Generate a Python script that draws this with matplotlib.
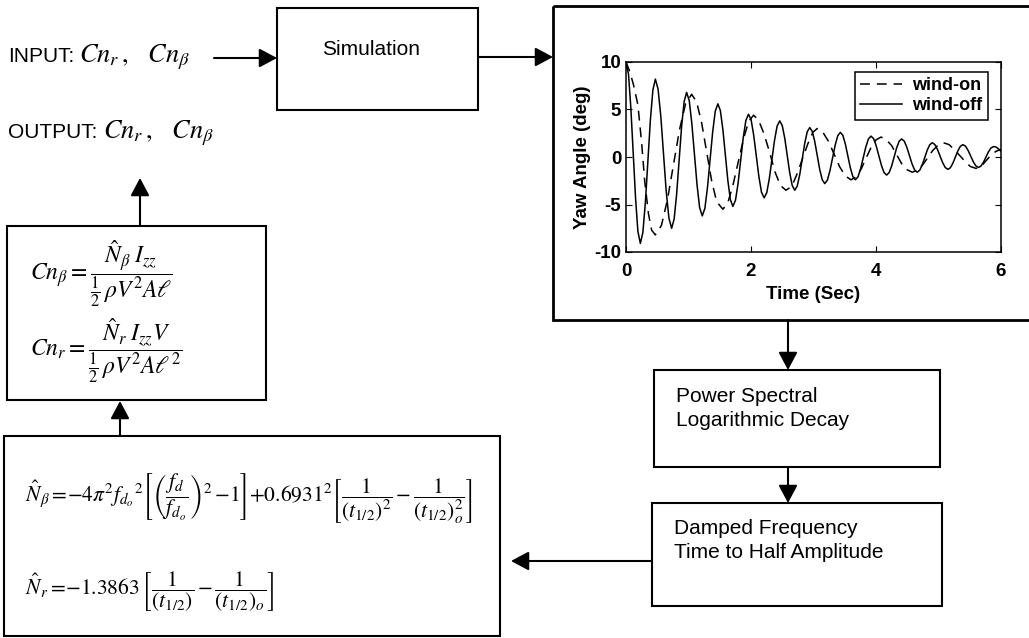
import numpy as np
import matplotlib.pyplot as plt
from matplotlib.patches import Rectangle

plt.rcParams['font.family'] = 'Liberation Sans'
plt.rcParams['mathtext.fontset'] = 'stix'
plt.rcParams['axes.unicode_minus'] = False

# yaw angle time histories
t_off = [0, 0.04, 0.077, 0.115, 0.153, 0.19,
         0.23, 0.27, 0.31, 0.35, 0.39, 0.43,
         0.47, 0.513, 0.557, 0.60, 0.643, 0.687,
         0.73, 0.77, 0.81, 0.85, 0.89, 0.93,
         0.97, 1.012, 1.053, 1.095, 1.137, 1.178,
         1.22, 1.262, 1.303, 1.345, 1.387, 1.428,
         1.47, 1.51, 1.55, 1.59, 1.63, 1.67,
         1.71, 1.752, 1.793, 1.835, 1.877, 1.918,
         1.96, 2.002, 2.043, 2.085, 2.127, 2.168,
         2.21, 2.252, 2.293, 2.335, 2.377, 2.418,
         2.46, 2.50, 2.54, 2.58, 2.62, 2.66,
         2.70, 2.74, 2.78, 2.82, 2.86, 2.90,
         2.94, 2.98, 3.02, 3.06, 3.10, 3.14,
         3.18, 3.222, 3.263, 3.305, 3.347, 3.388,
         3.43, 3.47, 3.51, 3.55, 3.59, 3.63,
         3.67, 3.712, 3.753, 3.795, 3.837, 3.878,
         3.92, 3.962, 4.003, 4.045, 4.087, 4.128,
         4.17, 4.21, 4.25, 4.29, 4.33, 4.37,
         4.41, 4.452, 4.493, 4.535, 4.577, 4.618,
         4.66, 4.70, 4.74, 4.78, 4.82, 4.86,
         4.90, 4.942, 4.983, 5.025, 5.067, 5.108,
         5.15, 5.19, 5.23, 5.27, 5.31, 5.35,
         5.39, 5.432, 5.473, 5.515, 5.557, 5.598,
         5.64, 5.68, 5.72, 5.76, 5.80, 5.84,
         5.88, 5.92, 5.96, 6.0]
yaw_off = [10, 8.72, 5.23, 0.45, -4.33, -7.82,
           -9.1, -7.94, -4.78, -0.45, 3.88, 7.04,
           8.2, 7.15, 4.28, 0.35, -3.58, -6.45,
           -7.5, -6.54, -3.93, -0.35, 3.23, 5.84,
           6.8, 5.93, 3.55, 0.3, -2.95, -5.33,
           -6.2, -5.41, -3.25, -0.3, 2.65, 4.81,
           5.6, 4.88, 2.9, 0.2, -2.5, -4.48,
           -5.2, -4.55, -2.78, -0.35, 2.08, 3.85,
           4.5, 3.91, 2.3, 0.1, -2.1, -3.71,
           -4.3, -3.76, -2.28, -0.25, 1.78, 3.26,
           3.8, 3.31, 1.98, 0.15, -1.68, -3.01,
           -3.5, -3.06, -1.85, -0.2, 1.45, 2.66,
           3.1, 2.7, 1.63, 0.15, -1.33, -2.4,
           -2.8, -2.44, -1.45, -0.1, 1.25, 2.24,
           2.6, 2.27, 1.35, 0.1, -1.15, -2.07,
           -2.4, -2.09, -1.25, -0.1, 1.05, 1.89,
           2.2, 1.93, 1.18, 0.15, -0.88, -1.63,
           -1.9, -1.65, -0.95, 0.0, 0.95, 1.65,
           1.9, 1.67, 1.03, 0.15, -0.73, -1.37,
           -1.6, -1.39, -0.83, -0.05, 0.73, 1.29,
           1.5, 1.31, 0.8, 0.1, -0.6, -1.11,
           -1.3, -1.13, -0.65, 0.0, 0.65, 1.13,
           1.3, 1.14, 0.7, 0.1, -0.5, -0.94,
           -1.1, -0.95, -0.55, 0.0, 0.55, 0.95,
           1.1, 1.05, 0.85, 0.6]

t_on = [0, 0.06, 0.12, 0.19, 0.25, 0.30, 0.36, 0.41, 0.47,
        0.567, 0.663, 0.76, 0.857, 0.953, 1.05,
        1.13, 1.21, 1.29, 1.37, 1.45, 1.55,
        1.63, 1.71, 1.795, 1.88, 1.96, 2.04,
        2.12, 2.21, 2.30, 2.38, 2.47, 2.56,
        2.65, 2.73, 2.82, 2.91, 2.99, 3.06,
        3.15, 3.24, 3.33, 3.42, 3.51, 3.60,
        3.68, 3.76, 3.84, 3.92, 4.00, 4.08,
        4.16, 4.25, 4.33, 4.41, 4.50, 4.58,
        4.66, 4.75, 4.83, 4.91, 5.00, 5.08,
        5.17, 5.25, 5.34, 5.43, 5.51, 5.60,
        5.68, 5.76, 5.84, 5.92, 6.0]
yaw_on = [10, 9.0, 7.6, 5.5, 1.5, -2.6, -6.0, -7.7, -8.2,
          -7.2, -4.5, -0.8, 2.9, 5.6, 6.6,
          5.8, 3.6, 0.55, -2.5, -4.7, -5.5,
          -4.8, -3.0, -0.55, 1.9, 3.7, 4.4,
          3.9, 2.4, 0.45, -1.5, -3.0, -3.5,
          -3.1, -1.9, -0.25, 1.4, 2.6, 3.0,
          2.6, 1.65, 0.3, -1.05, -2.0, -2.4,
          -2.1, -1.3, -0.15, 1.0, 1.8, 2.1,
          1.85, 1.2, 0.25, -0.7, -1.35, -1.6,
          -1.4, -0.8, -0.05, 0.7, 1.3, 1.5,
          1.3, 0.8, 0.15, -0.5, -1.0, -1.2,
          -1.0, -0.4, 0.2, 0.6, 0.8]

W, H = 1029, 638
fig = plt.figure(figsize=(W / 100, H / 100), dpi=100)
bg = fig.add_axes([0, 0, 1, 1])
bg.set_xlim(0, W)
bg.set_ylim(H, 0)
bg.axis('off')


def box(x0, y0, x1, y1, lw=1.5):
    bg.add_patch(Rectangle((x0, y0), x1 - x0, y1 - y0, fill=False,
                           lw=lw, ec='black'))


def arrow(x0, y0, x1, y1):
    bg.annotate('', xy=(x1, y1), xytext=(x0, y0),
                arrowprops=dict(arrowstyle='-|>,head_length=0.6,head_width=0.32',
                                color='black', lw=1.5, mutation_scale=18,
                                shrinkA=0, shrinkB=0))


# boxes
box(277, 8, 478, 110)
box(553, 6, 1040, 320, lw=2)
box(654, 370, 940, 467)
box(652, 503, 942, 606)
box(4, 436, 500, 636)
box(7, 226, 266, 400)

# arrows
arrow(214, 58, 277, 58)
arrow(478, 57, 553, 57)
arrow(788, 320, 788, 370)
arrow(788, 467, 788, 503)
arrow(652, 561, 511, 561)
arrow(120, 436, 120, 401)
arrow(140, 226, 140, 178)

# text
bg.text(8, 62, 'INPUT:', fontsize=15, va='baseline')
bg.text(79, 62, r'$Cn_{r}\,,\;\;\; Cn_{\beta}$', fontsize=19, va='baseline')
bg.text(8, 138, 'OUTPUT:', fontsize=15, va='baseline')
bg.text(103, 138, r'$Cn_{r}\,,\;\;\; Cn_{\beta}$', fontsize=19, va='baseline')
bg.text(371, 55, 'Simulation', fontsize=15, ha='center', va='baseline')
bg.text(676, 402, 'Power Spectral', fontsize=15, va='baseline')
bg.text(676, 426, 'Logarithmic Decay', fontsize=15, va='baseline')
bg.text(674, 534, 'Damped Frequency', fontsize=15, va='baseline')
bg.text(674, 558, 'Time to Half Amplitude', fontsize=15, va='baseline')

bg.text(30, 274, r'$Cn_{\beta} = \dfrac{\hat{N}_{\beta}\;I_{zz}}{\frac{1}{2}\,\rho V^{2} A\ell}$',
        fontsize=17, va='center')
bg.text(30, 351, r'$Cn_{r} = \dfrac{\hat{N}_{r}\;I_{zz}V}{\frac{1}{2}\,\rho V^{2} A\ell^{2}}$',
        fontsize=17, va='center')
bg.text(25, 499, r'$\hat{N}_{\beta} =\!{-4}\pi^{2} {f_{d_o}}^{2}\left[\left(\dfrac{f_d}{f_{d_o}}\right)^{2}\,{-1}\right]'
        r'{+0.6931}^{2}\left[\dfrac{1}{(t_{1/2})^{2}}\,{-}\,\dfrac{1}{(t_{1/2})_o^{2}}\right]$',
        fontsize=15.5, va='center')
bg.text(25, 592, r'$\hat{N}_{r} =\!{-1.3863}\,\left[\dfrac{1}{(t_{1/2})}\,{-}\,\dfrac{1}{(t_{1/2})_o}\right]$',
        fontsize=15.5, va='center')

# yaw angle plot
ax = fig.add_axes([626 / W, 1 - 252 / H, 375 / W, 190 / H])
ax.plot(t_on, yaw_on, color='black', lw=1.1, dashes=(6.5, 4.5), label='wind-on')
ax.plot(t_off, yaw_off, color='black', lw=1.1, label='wind-off')
ax.set_xlim(0, 6)
ax.set_ylim(-10, 10)
ax.set_xticks([0, 2, 4, 6])
ax.set_yticks([-10, -5, 0, 5, 10])
ax.tick_params(direction='in', top=True, right=True, labelsize=13.5, length=4)
ax.tick_params(axis='x', pad=8)
for lab in ax.get_xticklabels() + ax.get_yticklabels():
    lab.set_fontweight('bold')
for s in ax.spines.values():
    s.set_linewidth(1.1)
ax.set_xlabel('Time (Sec)', fontsize=13.5, fontweight='bold', labelpad=4)
ax.set_ylabel('Yaw Angle (deg)', fontsize=13.5, fontweight='bold', labelpad=2)
leg = ax.legend(loc='upper right', bbox_to_anchor=(988 / W, 1 - 72 / H),
                bbox_transform=fig.transFigure, borderaxespad=0, fancybox=False,
                edgecolor='black', framealpha=1, prop={'weight': 'bold', 'size': 13},
                handlelength=2.3, handletextpad=0.6, labelspacing=0.15,
                borderpad=0.3)
leg.get_frame().set_linewidth(1.1)

fig.savefig('out.png', dpi=100)
